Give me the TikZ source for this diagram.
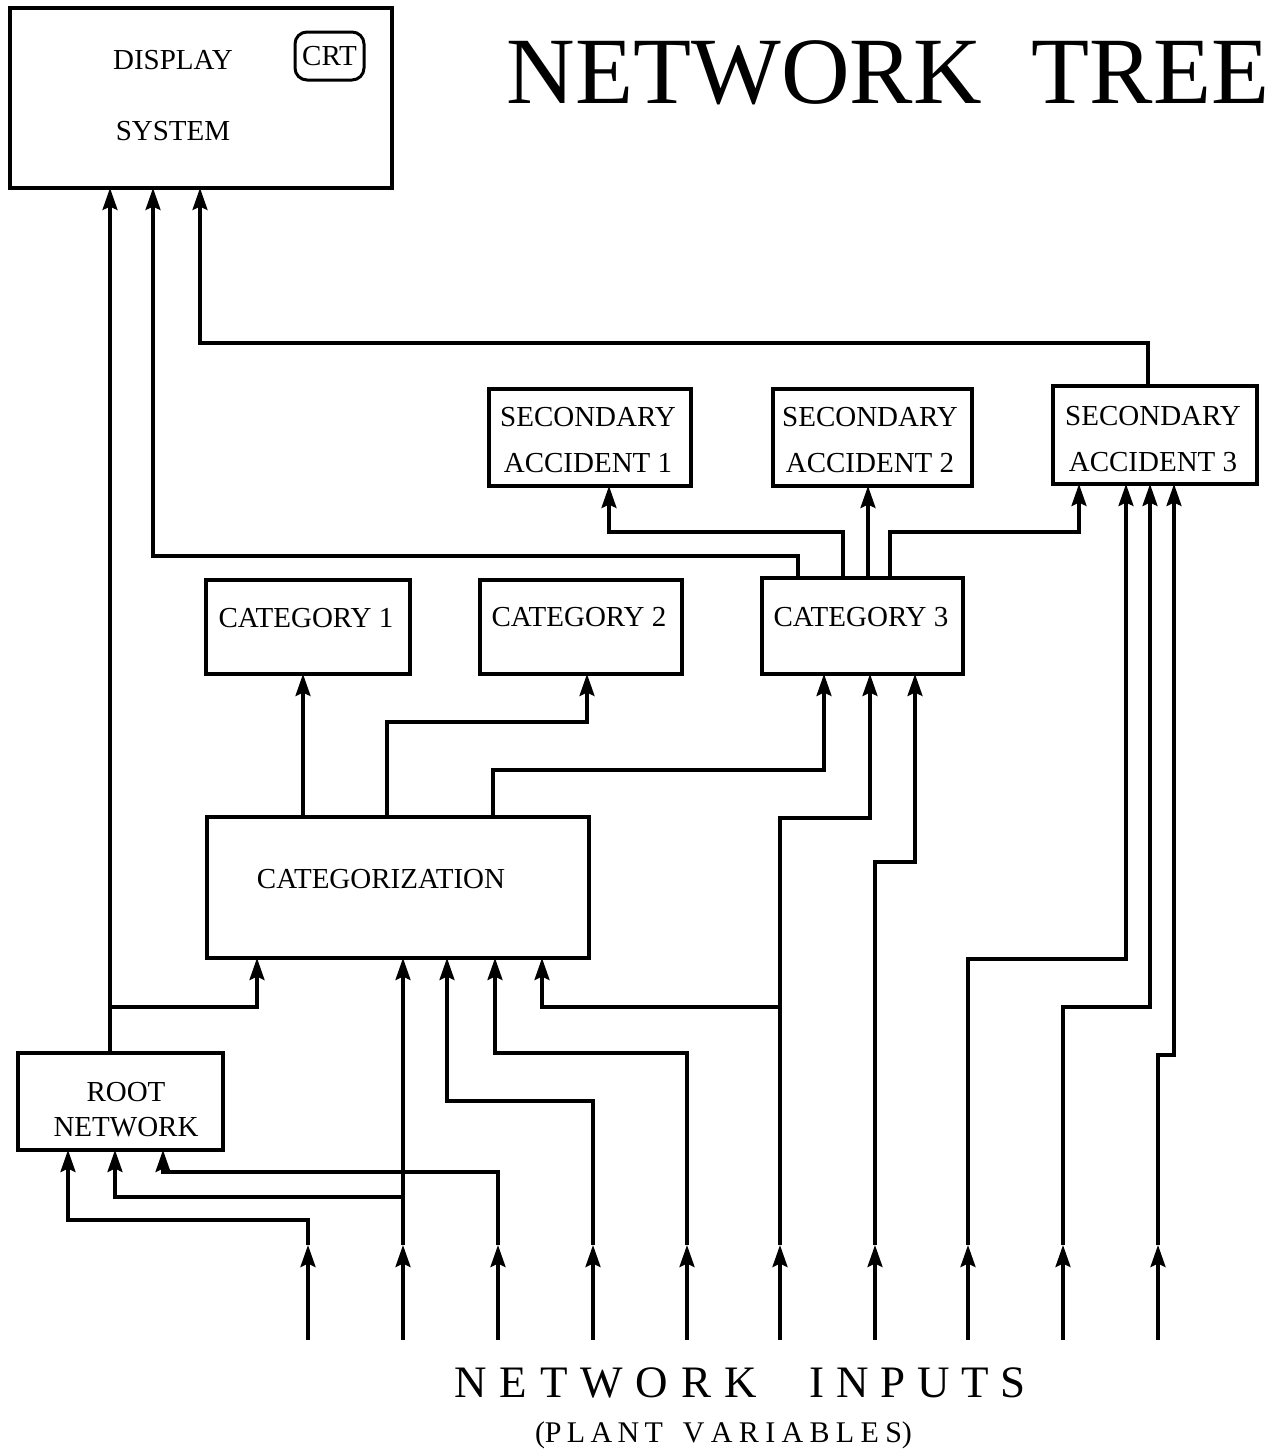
\documentclass[tikz,border=0pt]{standalone}
\usepackage{fontspec}
\setmainfont{Liberation Serif}
\usetikzlibrary{arrows.meta}
\begin{document}
\begin{tikzpicture}[x=1pt,y=-1pt,
  box/.style={draw,line width=3.2pt,inner sep=0pt,outer sep=0pt,minimum width=#1},
  lbl/.style={inner sep=0pt,font=\fontsize{29}{34}\selectfont},
  arr/.style={line width=3.2pt,-{Stealth[length=22pt,width=15pt,inset=3.5pt]}},
  wire/.style={line width=3.2pt}]
\useasboundingbox (0,0) rectangle (1278,1452);

% boxes
\node[box=382pt,minimum height=180pt] (disp) at (201,98) {};
\node[box=69pt,minimum height=48pt,rounded corners=12pt,line width=3pt] (crt) at (329.5,56) {};
\node[box=202pt,minimum height=97pt] (sa1) at (590,437.5) {};
\node[box=199pt,minimum height=97pt] (sa2) at (872.5,437.5) {};
\node[box=204pt,minimum height=98pt] (sa3) at (1155,435) {};
\node[box=204pt,minimum height=94pt] (cat1) at (308,627) {};
\node[box=202pt,minimum height=94pt] (cat2) at (581,627) {};
\node[box=201pt,minimum height=96pt] (cat3) at (862.5,626) {};
\node[box=382pt,minimum height=141pt] (categ) at (398,887.5) {};
\node[box=205pt,minimum height=97pt] (root) at (120.5,1101.5) {};

% texts
\node[lbl] (dispA) at (173,60) {DISPLAY};
\node[lbl] (dispB) at (173,131) {SYSTEM};
\node[lbl] (crtT) at (crt) {CRT};
\node[lbl,align=center,font=\fontsize{29}{46}\selectfont] (sa1T) at (588,440) {SECONDARY\\ACCIDENT 1};
\node[lbl,align=center,font=\fontsize{29}{46}\selectfont] (sa2T) at (870,440) {SECONDARY\\ACCIDENT 2};
\node[lbl,align=center,font=\fontsize{29}{46}\selectfont] (sa3T) at (1153,439) {SECONDARY\\ACCIDENT 3};
\node[lbl] (cat1T) at (306,618) {CATEGORY 1};
\node[lbl] (cat2T) at (579,617) {CATEGORY 2};
\node[lbl] (cat3T) at (861,617) {CATEGORY 3};
\node[lbl] (categT) at (381,879) {CATEGORIZATION};
\node[lbl,align=center,font=\fontsize{29}{35}\selectfont] (rootT) at (126,1110) {ROOT\\NETWORK};

\node[inner sep=0pt,anchor=base,font=\fontsize{95}{95}\selectfont] (title) at (888,103)
  {NETWORK\hspace{50pt}TREE};
\node[inner sep=0pt,anchor=base,font=\fontsize{45}{45}\selectfont] (inputs) at (740,1397)
  {\makebox[302pt]{N\hfill E\hfill T\hfill W\hfill O\hfill R\hfill K}\hspace{53pt}\makebox[216pt]{I\hfill N\hfill P\hfill U\hfill T\hfill S}};
\node[inner sep=0pt,anchor=base,font=\fontsize{30}{30}\selectfont] (plant) at (723.5,1442)
  {\makebox[128pt]{(P\hfill L\hfill A\hfill N\hfill T}\hspace{20pt}\makebox[229pt]{V\hfill A\hfill R\hfill I\hfill A\hfill B\hfill L\hfill E\hfill S)}};

% input coordinates
\foreach \i/\x in {1/308,2/403,3/498,4/593,5/687,6/780,7/875,8/968,9/1063,10/1158}{
  \coordinate (i\i) at (\x,1340);
  \coordinate (m\i) at (\x,1245);
  \draw[arr] (i\i) -- (m\i);
}
\coordinate (j0) at (110,1007);
\coordinate (j2) at (403,1197);
\coordinate (j6) at (780,1007);

% inputs to root / categorization
\draw[arr] (m1) -- (308,1220) -| ([xshift=50pt]root.south west);
\draw[arr] (m2) -- ([xshift=196pt]categ.south west);
\draw[arr] (j2) -| ([xshift=97pt]root.south west);
\draw[arr] (m3) -- (498,1172) -| ([xshift=145pt]root.south west);
\draw[arr] (m4) -- (593,1101) -| ([xshift=240pt]categ.south west);
\draw[arr] (m5) -- (687,1053) -| ([xshift=288pt]categ.south west);
\draw[arr] (m6) -- (780,818) -| ([xshift=108pt]cat3.south west);
\draw[arr] (j6) -| ([xshift=335pt]categ.south west);
\draw[arr] (m7) -- (875,862) -| ([xshift=153pt]cat3.south west);
\draw[arr] (m8) -- (968,959) -| ([xshift=73pt]sa3.south west);
\draw[arr] (m9) -- (1063,1007) -| ([xshift=97pt]sa3.south west);
\draw[arr] (m10) -- (1158,1055) -| ([xshift=121pt]sa3.south west);

% root to display and categorization
\draw[arr] ([xshift=92pt]root.north west) -- ([xshift=100pt]disp.south west);
\draw[arr] (j0) -| ([xshift=50pt]categ.south west);

% categorization to categories
\draw[arr] ([xshift=96pt]categ.north west) -- ([xshift=97pt]cat1.south west);
\draw[arr] ([xshift=180pt]categ.north west) |- (587,722) -- ([xshift=107pt]cat2.south west);
\draw[arr] ([xshift=286pt]categ.north west) |- (824,770) -- ([xshift=62pt]cat3.south west);

% category 3 outputs
\draw[arr] ([xshift=36pt]cat3.north west) |- (153,556) -- ([xshift=143pt]disp.south west);
\draw[arr] ([xshift=81pt]cat3.north west) |- (609,532) -- ([xshift=120pt]sa1.south west);
\draw[arr] ([xshift=106pt]cat3.north west) -- ([xshift=95pt]sa2.south west);
\draw[arr] ([xshift=128pt]cat3.north west) |- (1079,532) -- ([xshift=26pt]sa3.south west);

% secondary accident 3 to display
\draw[arr] ([xshift=95pt]sa3.north west) |- (200,343) -- ([xshift=190pt]disp.south west);
\end{tikzpicture}
\end{document}
